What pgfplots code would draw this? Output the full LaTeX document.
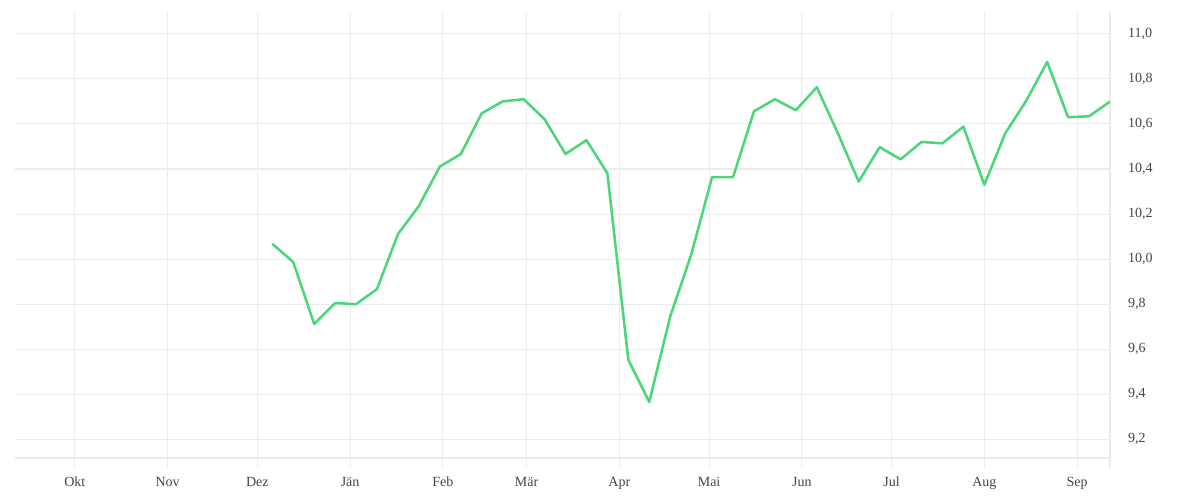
\documentclass[border=0pt]{standalone}
\usepackage{fontspec}
\setmainfont{Liberation Serif}
\usepackage{pgfplots}
\pgfplotsset{compat=1.18}
\definecolor{gridgray}{HTML}{EBEBEB}
\definecolor{labelgray}{HTML}{444444}
\definecolor{linegreen}{HTML}{4CD67A}

% day 0 = 1 Okt, weekly values
\pgfplotstableread{
day val
66  10.068
73  9.987
80  9.712
87  9.805
94  9.800
101 9.867
108 10.111
115 10.236
122 10.411
129 10.466
136 10.647
143 10.700
150 10.710
157 10.621
164 10.467
171 10.528
178 10.381
185 9.553
192 9.366
199 9.745
206 10.019
213 10.364
220 10.364
227 10.656
234 10.710
241 10.661
248 10.763
255 10.560
262 10.344
269 10.497
276 10.443
283 10.520
290 10.514
297 10.588
304 10.330
311 10.559
318 10.703
325 10.875
332 10.630
339 10.634
346 10.699
}\series

\begin{document}
\begin{tikzpicture}
  \useasboundingbox (-11.25pt,-31.5pt) rectangle (888.75pt,343.5pt);
  \begin{axis}[
    scale only axis,
    width=821.25pt, height=334.5pt,
    xmin=-20, xmax=346,
    ymin=9.117, ymax=11.097,
    axis x line*=bottom,
    axis y line*=right,
    x axis line style={gridgray, line width=0.8pt, -},
    y axis line style={gridgray, line width=0.8pt, -},
    grid=major,
    major grid style={gridgray, line width=0.8pt},
    xtick={0,31,61,92,123,151,182,212,243,273,304,335,346},
    xticklabels={Okt,Nov,Dez,Jän,Feb,Mär,Apr,Mai,Jun,Jul,Aug,Sep,{}},
    ytick={9.2,9.4,...,11.01},
    tick align=outside,
    major tick length=7.5pt,
    x tick style={gridgray, line width=0.8pt},
    y tick style={draw=none},
    tick label style={font=\fontsize{10.5}{12}\selectfont, text=labelgray},
    xticklabel style={text height=8pt, text depth=2pt, yshift=-2.5pt},
    yticklabel style={xshift=2.5pt},
    /pgf/number format/assume math mode=true,
    /pgf/number format/.cd, use comma, fixed, fixed zerofill, precision=1,
  ]
    \addplot[linegreen, line width=1.9pt, line join=round, mark=none] table[x=day, y=val] {\series};
  \end{axis}
\end{tikzpicture}
\end{document}
